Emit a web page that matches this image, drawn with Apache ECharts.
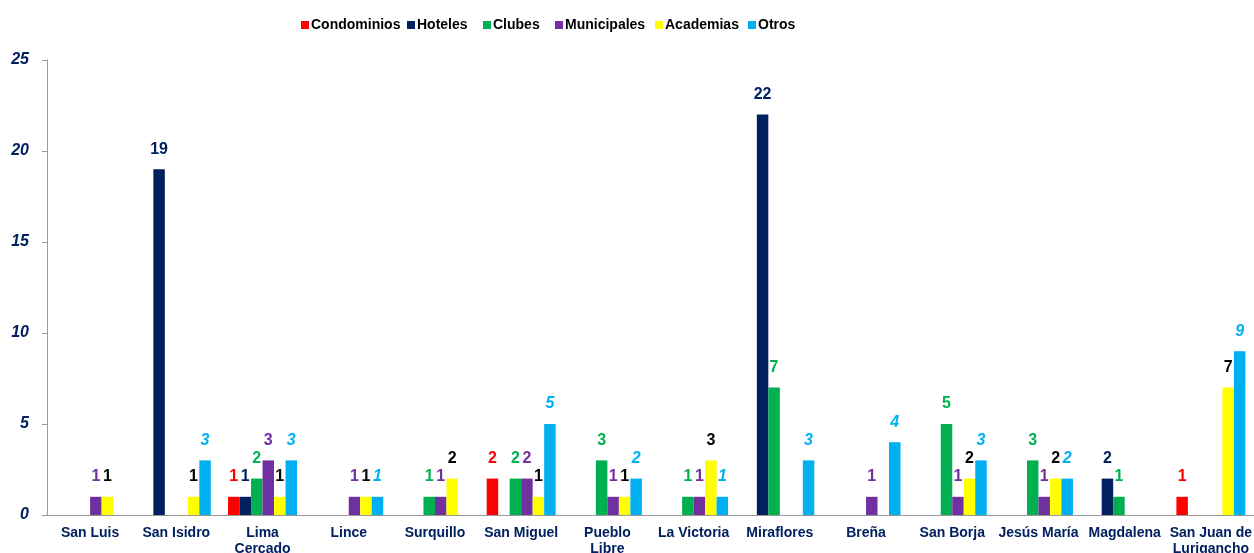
<!DOCTYPE html>
<html>
<head>
<meta charset="utf-8">
<script src="https://cdn.jsdelivr.net/npm/echarts@6/dist/echarts.min.js"></script>
<style>
  body { margin: 0; background: #fff; }
</style>
</head>
<body>
<div id="myChart" style="width:1254px;height:553px"></div>
<script>
var distritos = ['San Luis', 'San Isidro', 'Lima\nCercado', 'Lince', 'Surquillo', 'San Miguel', 'Pueblo\nLibre',
  'La Victoria', 'Miraflores', 'Breña', 'San Borja', 'Jesús María', 'Magdalena', 'San Juan de\nLurigancho']

var tipos = ['Condominios', 'Hoteles', 'Clubes', 'Municipales', 'Academias', 'Otros']

var condominios = [0, 0, 1, 0, 0, 2, 0, 0, 0, 0, 0, 0, 0, 1]
var hoteles     = [0, 19, 1, 0, 0, 0, 0, 0, 22, 0, 0, 0, 2, 0]
var clubes      = [0, 0, 2, 0, 1, 2, 3, 1, 7, 0, 5, 3, 1, 0]
var municipales = [1, 0, 3, 1, 1, 2, 1, 1, 0, 1, 1, 1, 0, 0]
var academias   = [1, 1, 1, 1, 2, 1, 1, 3, 0, 0, 2, 2, 0, 7]
var otros       = [0, 3, 3, 1, 0, 5, 2, 1, 3, 4, 3, 2, 0, 9]

var navy = '#002060'

// one legend per item so the icons sit where the original ones are
var legendX = [301, 407, 483, 555, 655, 748]

function serie (name, data, color, labelColor, italic) {
  return {
    name: name,
    type: 'bar',
    data: data,
    barGap: '0%',
    barCategoryGap: '20%',
    itemStyle: { color: color },
    label: {
      show: true,
      position: 'top',
      distance: 12,
      color: labelColor,
      fontFamily: 'Liberation Sans, Arial, sans-serif',
      fontWeight: 'bold',
      fontStyle: italic ? 'italic' : 'normal',
      fontSize: 16,
      formatter: function (p) { return p.value ? p.value : '' }
    }
  }
}

var myChart = echarts.init(document.getElementById('myChart'))

myChart.setOption({
  animation: false,
  color: ['#FF0000', navy, '#00B050', '#7030A0', '#FFFF00', '#00B0F0'],
  legend: tipos.map(function (t, i) {
    return {
      data: [t],
      top: 18,
      left: legendX[i],
      padding: 0,
      itemWidth: 8,
      itemHeight: 8,
      icon: 'rect',
      textStyle: {
        fontFamily: 'Liberation Sans, Arial, sans-serif',
        fontWeight: 'bold',
        fontSize: 14,
        color: '#000',
        padding: [0, 0, 0, -3]
      }
    }
  }),
  grid: { left: 47, right: 0, top: 60, bottom: 38, outerBoundsMode: 'none' },
  xAxis: {
    type: 'category',
    data: distritos,
    axisLine: { lineStyle: { color: '#999' } },
    axisTick: { length: 5, lineStyle: { color: '#999' } },
    axisLabel: {
      interval: 0,
      margin: 10,
      color: navy,
      fontFamily: 'Liberation Sans, Arial, sans-serif',
      fontWeight: 'bold',
      fontSize: 14,
      lineHeight: 16
    }
  },
  yAxis: {
    type: 'value',
    min: 0,
    max: 25,
    interval: 5,
    splitLine: { show: false },
    axisLine: { show: true, lineStyle: { color: '#999' } },
    axisTick: { show: true, length: 5, lineStyle: { color: '#999' } },
    axisLabel: {
      margin: 18,
      color: navy,
      fontFamily: 'Liberation Sans, Arial, sans-serif',
      fontWeight: 'bold',
      fontStyle: 'italic',
      fontSize: 16
    }
  },
  series: [
    serie('Condominios', condominios, '#FF0000', '#FF0000', false),
    serie('Hoteles', hoteles, navy, navy, false),
    serie('Clubes', clubes, '#00B050', '#00B050', false),
    serie('Municipales', municipales, '#7030A0', '#7030A0', false),
    serie('Academias', academias, '#FFFF00', '#000000', false),
    serie('Otros', otros, '#00B0F0', '#00B0F0', true)
  ]
})
</script>
</body>
</html>
